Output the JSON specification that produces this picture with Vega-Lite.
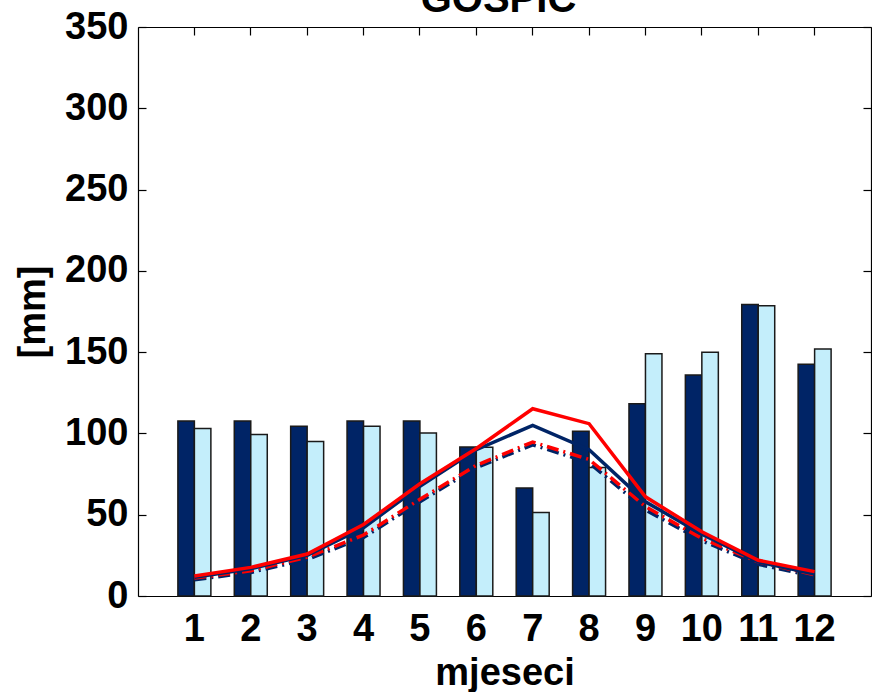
{
  "$schema": "https://vega.github.io/schema/vega-lite/v6.json",
  "autosize": {"type": "none"},
  "width": 733,
  "height": 569,
  "padding": {"left": 138, "top": 27, "right": 1, "bottom": 96},
  "background": "white",
  "title": {"text": "GOSPIC", "font": "Liberation Sans", "fontSize": 40, "fontWeight": "bold", "color": "black", "anchor": "middle", "frame": "group", "offset": 5, "dx": -6, "dy": 17},
  "config": {
    "view": {"stroke": null},
    "axis": {
      "labelFont": "Liberation Sans", "labelFontSize": 38, "labelFontWeight": "bold", "labelColor": "black",
      "titleFont": "Liberation Sans", "titleFontSize": 38, "titleFontWeight": "bold", "titleColor": "black",
      "domainColor": "black", "domainWidth": 1.2, "tickColor": "black", "tickWidth": 1.2, "tickSize": -8, "grid": false
    }
  },
  "datasets": {
    "bars": [
      {"month": 1, "kind": "a", "value": 107.6}, {"month": 1, "kind": "b", "value": 103},
      {"month": 2, "kind": "a", "value": 107.6}, {"month": 2, "kind": "b", "value": 99.3},
      {"month": 3, "kind": "a", "value": 104.4}, {"month": 3, "kind": "b", "value": 95},
      {"month": 4, "kind": "a", "value": 107.6}, {"month": 4, "kind": "b", "value": 104.4},
      {"month": 5, "kind": "a", "value": 107.6}, {"month": 5, "kind": "b", "value": 100.3},
      {"month": 6, "kind": "a", "value": 91.7}, {"month": 6, "kind": "b", "value": 91.5},
      {"month": 7, "kind": "a", "value": 66.5}, {"month": 7, "kind": "b", "value": 51.4},
      {"month": 8, "kind": "a", "value": 101.3}, {"month": 8, "kind": "b", "value": 79},
      {"month": 9, "kind": "a", "value": 118.3}, {"month": 9, "kind": "b", "value": 149},
      {"month": 10, "kind": "a", "value": 136}, {"month": 10, "kind": "b", "value": 150},
      {"month": 11, "kind": "a", "value": 179.3}, {"month": 11, "kind": "b", "value": 178.5},
      {"month": 12, "kind": "a", "value": 142.5}, {"month": 12, "kind": "b", "value": 151.9}
    ],
    "lines": [
      {"month": 1, "series": "rs", "value": 12.3}, {"month": 2, "series": "rs", "value": 17.6}, {"month": 3, "series": "rs", "value": 25.8}, {"month": 4, "series": "rs", "value": 44}, {"month": 5, "series": "rs", "value": 69}, {"month": 6, "series": "rs", "value": 90.7}, {"month": 7, "series": "rs", "value": 115.2}, {"month": 8, "series": "rs", "value": 106}, {"month": 9, "series": "rs", "value": 61}, {"month": 10, "series": "rs", "value": 39.5}, {"month": 11, "series": "rs", "value": 22}, {"month": 12, "series": "rs", "value": 15},
      {"month": 1, "series": "ns", "value": 11.5}, {"month": 2, "series": "ns", "value": 16.8}, {"month": 3, "series": "ns", "value": 25}, {"month": 4, "series": "ns", "value": 42}, {"month": 5, "series": "ns", "value": 67.5}, {"month": 6, "series": "ns", "value": 90}, {"month": 7, "series": "ns", "value": 105}, {"month": 8, "series": "ns", "value": 90}, {"month": 9, "series": "ns", "value": 58}, {"month": 10, "series": "ns", "value": 38}, {"month": 11, "series": "ns", "value": 21}, {"month": 12, "series": "ns", "value": 13.5},
      {"month": 1, "series": "rd", "value": 11}, {"month": 2, "series": "rd", "value": 15.5}, {"month": 3, "series": "rd", "value": 23.9}, {"month": 4, "series": "rd", "value": 37.5}, {"month": 5, "series": "rd", "value": 59.5}, {"month": 6, "series": "rd", "value": 80.4}, {"month": 7, "series": "rd", "value": 94.7}, {"month": 8, "series": "rd", "value": 84}, {"month": 9, "series": "rd", "value": 55}, {"month": 10, "series": "rd", "value": 35.4}, {"month": 11, "series": "rd", "value": 21}, {"month": 12, "series": "rd", "value": 13},
      {"month": 1, "series": "nd", "value": 10}, {"month": 2, "series": "nd", "value": 14.5}, {"month": 3, "series": "nd", "value": 22.5}, {"month": 4, "series": "nd", "value": 36}, {"month": 5, "series": "nd", "value": 58}, {"month": 6, "series": "nd", "value": 79}, {"month": 7, "series": "nd", "value": 93}, {"month": 8, "series": "nd", "value": 82}, {"month": 9, "series": "nd", "value": 53}, {"month": 10, "series": "nd", "value": 34}, {"month": 11, "series": "nd", "value": 19.5}, {"month": 12, "series": "nd", "value": 12}
    ]
  },
  "layer": [
    {
      "data": {"name": "bars"},
      "mark": {"type": "bar", "stroke": "#1a1a1a", "strokeWidth": 1.5},
      "encoding": {
        "x": {"field": "month", "type": "ordinal", "scale": {"paddingInner": 0.415, "paddingOuter": 0.7075},
              "axis": {"orient": "bottom", "title": "mjeseci", "labelAngle": 0, "labelPadding": 22, "titlePadding": 6}},
        "xOffset": {"field": "kind", "type": "nominal", "scale": {"domain": ["a", "b"], "paddingInner": 0, "paddingOuter": 0}},
        "y": {"field": "value", "type": "quantitative", "scale": {"domain": [0, 350], "nice": false},
              "axis": {"orient": "left", "title": "[mm]", "values": [0, 50, 100, 150, 200, 250, 300, 350], "labelPadding": 18, "titlePadding": 12}},
        "color": {"field": "kind", "type": "nominal", "scale": {"domain": ["a", "b"], "range": ["#002466", "#c4eefb"]}, "legend": null}
      }
    },
    {
      "data": {"name": "lines"},
      "transform": [{"filter": "datum.series === 'nd'"}],
      "mark": {"type": "line", "color": "#002466", "strokeWidth": 3.5, "strokeDash": [12, 5, 2, 5]},
      "encoding": {
        "x": {"field": "month", "type": "ordinal", "axis": {"orient": "top", "labels": false, "title": null}},
        "y": {"field": "value", "type": "quantitative", "axis": {"orient": "right", "labels": false, "title": null, "values": [0, 50, 100, 150, 200, 250, 300, 350]}}
      }
    },
    {
      "data": {"name": "lines"},
      "transform": [{"filter": "datum.series === 'rd'"}],
      "mark": {"type": "line", "color": "#ff0000", "strokeWidth": 3.5, "strokeDash": [12, 5, 2, 5]},
      "encoding": {
        "x": {"field": "month", "type": "ordinal", "axis": null},
        "y": {"field": "value", "type": "quantitative", "axis": null}
      }
    },
    {
      "data": {"name": "lines"},
      "transform": [{"filter": "datum.series === 'ns'"}],
      "mark": {"type": "line", "color": "#002466", "strokeWidth": 3.5},
      "encoding": {
        "x": {"field": "month", "type": "ordinal", "axis": null},
        "y": {"field": "value", "type": "quantitative", "axis": null}
      }
    },
    {
      "data": {"name": "lines"},
      "transform": [{"filter": "datum.series === 'rs'"}],
      "mark": {"type": "line", "color": "#ff0000", "strokeWidth": 3.5},
      "encoding": {
        "x": {"field": "month", "type": "ordinal", "axis": null},
        "y": {"field": "value", "type": "quantitative", "axis": null}
      }
    }
  ],
  "resolve": {"axis": {"x": "independent", "y": "independent"}}
}
